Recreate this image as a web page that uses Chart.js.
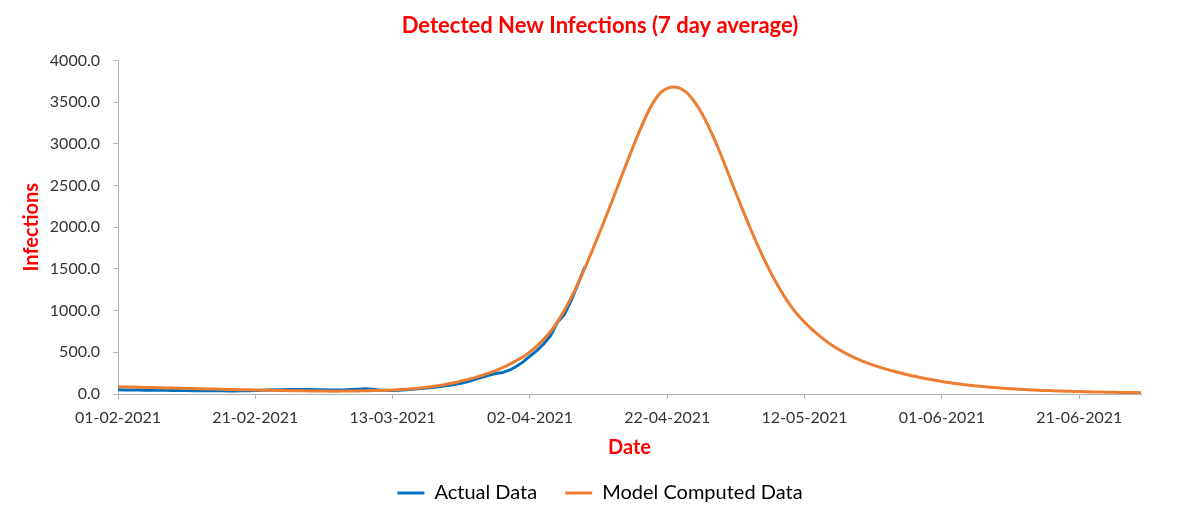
<!DOCTYPE html>
<html>
<head>
<meta charset="utf-8">
<script src="https://cdn.jsdelivr.net/npm/chart.js@4"></script>
<style>
  html, body { margin: 0; padding: 0; background: #fff; }
  #wrap { width: 1200px; height: 520px; }
</style>
</head>
<body>
<div id="wrap"><canvas id="ch"></canvas></div>
<script>
// x tick labels, one every 20 days from 01-02-2021
const tickLabels = ['01-02-2021', '21-02-2021', '13-03-2021', '02-04-2021',
  '22-04-2021', '12-05-2021', '01-06-2021', '21-06-2021'];

// daily 7 day average, day 0 = 01-02-2021
const actualValues = [
  50, 49, 48, 47, 46, 45, 44, 44, 43, 42,
  41, 40, 40, 39, 38, 38, 37, 37, 38, 40,
  42, 44, 47, 50, 52, 54, 55, 55, 54, 52,
  50, 49, 49, 50, 54, 58, 62, 56, 48, 44,
  42, 45, 52, 58, 65, 72, 80, 90, 102, 115,
  128, 150, 175, 200, 225, 245, 258, 285, 330, 385,
  455, 520, 600, 700, 860, 950, 1120, 1320, 1525
];

const modelValues = [
  87, 85, 83, 81, 79, 77, 75, 73, 71, 69,
  67, 65, 63, 61, 59, 57, 55, 53, 51, 50,
  48, 46, 45, 43, 42, 40, 39, 38, 37, 36,
  35, 34, 34, 35, 36, 37, 39, 41, 43, 45,
  48, 53, 58, 64, 72, 80, 92, 105, 120, 135,
  155, 175, 197, 222, 250, 280, 315, 355, 400, 445,
  505, 575, 655, 750, 865, 1000, 1155, 1325, 1510, 1705,
  1905, 2110, 2320, 2535, 2750, 2960, 3160, 3345, 3500, 3610,
  3665, 3680, 3660, 3600, 3500, 3370, 3210, 3030, 2830, 2620,
  2410, 2205, 2005, 1815, 1635, 1468, 1315, 1177, 1055, 950,
  860, 780, 708, 643, 585, 533, 487, 446, 410, 377,
  347, 320, 295, 272, 251, 231, 212, 195, 179, 164,
  150, 137, 126, 115, 106, 97, 89, 82, 75, 69,
  63, 58, 53, 49, 45, 42, 39, 36, 33, 31,
  29, 27, 25, 23, 22, 20, 19, 18, 17, 16
];

const seriesNames = ['Actual Data', 'Model Computed Data'];

Chart.defaults.font.family = 'Lato';
Chart.defaults.color = '#333';

const axisGrey = '#b3b3b3';
const red = '#ff0000';

const data = {
  datasets: [{
    label: seriesNames[0],
    data: actualValues.map((v, i) => ({ x: i, y: v })),
    borderColor: '#0070c0',
    backgroundColor: '#0070c0',
    borderWidth: 3,
    pointRadius: 0,
    tension: 0,
    order: 2
  }, {
    label: seriesNames[1],
    data: modelValues.map((v, i) => ({ x: i, y: v })),
    borderColor: '#ed7d31',
    backgroundColor: '#ed7d31',
    borderWidth: 3,
    pointRadius: 0,
    cubicInterpolationMode: 'monotone',
    order: 1
  }]
};

const config = {
  type: 'line',
  data: data,
  options: {
    responsive: true,
    maintainAspectRatio: false,
    animation: false,
    layout: { padding: { left: 0, right: 0, top: 0, bottom: 7 } },
    plugins: {
      tooltip: { enabled: false },
      title: {
        display: true,
        text: 'Detected New Infections (7 day average)',
        color: red,
        font: { size: 22, weight: 'bold' },
        padding: { top: 13, bottom: 21 }
      },
      legend: {
        position: 'bottom',
        labels: {
          boxWidth: 27,
          boxHeight: 3,
          padding: 28,
          color: '#000',
          font: { size: 20 },
          sort: (a, b) => a.datasetIndex - b.datasetIndex,
          generateLabels: chart =>
            Chart.defaults.plugins.legend.labels.generateLabels(chart)
              .map(l => ({ ...l, lineWidth: 0 }))
        }
      }
    },
    scales: {
      x: {
        type: 'linear',
        min: 0,
        max: modelValues.length - 1,
        afterFit: s => { s.height = 61; },
        afterBuildTicks: s => {
          s.ticks = s.ticks.filter(t => t.value % 20 === 0);
        },
        ticks: {
          stepSize: 20,
          padding: 9,
          maxRotation: 0,
          autoSkip: false,
          font: { size: 16 },
          callback: v => tickLabels[v / 20]
        },
        grid: {
          drawOnChartArea: false,
          drawTicks: true,
          tickLength: 5,
          color: axisGrey
        },
        border: { display: true, color: axisGrey },
        title: {
          display: true,
          text: 'Date',
          color: red,
          font: { size: 20, weight: 'bold', lineHeight: 0.7 },
          padding: { top: 0, bottom: 0 }
        }
      },
      y: {
        min: 0,
        max: 4000,
        afterFit: s => { s.width = 118; },
        ticks: {
          stepSize: 500,
          padding: 13,
          font: { size: 16 },
          callback: v => v.toFixed(1)
        },
        grid: {
          drawOnChartArea: false,
          drawTicks: true,
          tickLength: 5,
          color: axisGrey
        },
        border: { display: true, color: axisGrey },
        title: {
          display: true,
          text: 'Infections',
          color: red,
          font: { size: 20, weight: 'bold' },
          padding: { top: 20, bottom: 0 }
        }
      },
      // empty spacer on the right so title and legend centre on the page
      spacer: {
        position: 'right',
        display: true,
        afterFit: s => { s.width = 59; },
        ticks: { display: false },
        grid: { display: false },
        border: { display: false }
      }
    }
  }
};

const myChart = new Chart(document.getElementById('ch'), config);
</script>
</body>
</html>
